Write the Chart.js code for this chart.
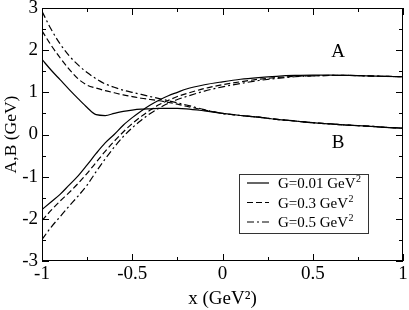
<!DOCTYPE html>
<html>
<head>
<meta charset="utf-8">
<script src="https://cdn.jsdelivr.net/npm/chart.js@4.4.0/dist/chart.umd.min.js"></script>
<style>
  html, body { margin: 0; padding: 0; background: #fff; }
  canvas { display: block; }
</style>
</head>
<body>
<canvas id="chart" width="409" height="310"></canvas>
<script>
const xs = [-1, -0.95, -0.9, -0.85, -0.8, -0.75, -0.7, -0.65, -0.6, -0.55, -0.5, -0.45, -0.4, -0.35, -0.3, -0.25, -0.2, -0.1, 0, 0.1, 0.2, 0.3, 0.4, 0.5, 0.6, 0.7, 0.8, 0.9, 1];

// A(x) for the three widths
const aG001 = [-1.78, -1.6, -1.42, -1.2, -0.98, -0.72, -0.45, -0.2, 0.0, 0.22, 0.4, 0.56, 0.7, 0.82, 0.92, 1.0, 1.08, 1.18, 1.25, 1.31, 1.35, 1.38, 1.4, 1.41, 1.41, 1.4, 1.39, 1.38, 1.37];
const aG03 = [-2.04, -1.8, -1.58, -1.38, -1.16, -0.92, -0.66, -0.4, -0.16, 0.06, 0.26, 0.43, 0.58, 0.71, 0.81, 0.9, 0.97, 1.09, 1.18, 1.25, 1.31, 1.35, 1.38, 1.39, 1.4, 1.4, 1.39, 1.38, 1.37];
const aG05 = [-2.49, -2.2, -1.95, -1.7, -1.46, -1.2, -0.88, -0.58, -0.3, -0.05, 0.16, 0.34, 0.5, 0.63, 0.74, 0.83, 0.9, 1.03, 1.13, 1.21, 1.28, 1.33, 1.37, 1.39, 1.4, 1.4, 1.39, 1.38, 1.37];

// B(x) for the three widths
const bG001 = [1.78, 1.53, 1.3, 1.07, 0.85, 0.64, 0.47, 0.45, 0.5, 0.55, 0.58, 0.6, 0.61, 0.62, 0.62, 0.62, 0.61, 0.56, 0.5, 0.45, 0.41, 0.36, 0.32, 0.28, 0.25, 0.22, 0.2, 0.17, 0.15];
const bG03 = [2.46, 2.12, 1.82, 1.55, 1.32, 1.17, 1.1, 1.04, 0.99, 0.94, 0.9, 0.86, 0.83, 0.8, 0.76, 0.72, 0.67, 0.58, 0.5, 0.45, 0.41, 0.36, 0.32, 0.28, 0.25, 0.22, 0.2, 0.17, 0.15];
const bG05 = [2.92, 2.5, 2.15, 1.87, 1.65, 1.47, 1.32, 1.2, 1.12, 1.05, 1.0, 0.95, 0.9, 0.85, 0.8, 0.75, 0.7, 0.59, 0.5, 0.45, 0.41, 0.36, 0.32, 0.28, 0.25, 0.22, 0.2, 0.17, 0.15];

const legendLabels = ['G=0.01 GeV', 'G=0.3 GeV', 'G=0.5 GeV'];
const dashes = [[], [6, 3], [7, 3, 2, 3]];
const curveLabels = [{ text: 'A', x: 0.64, y: 1.95 }, { text: 'B', x: 0.64, y: -0.2 }];

const pts = (ys) => xs.map((x, i) => ({ x: x, y: ys[i] }));
const serif = 'Liberation Serif, Times New Roman, serif';

const line = (ys, k, label) => ({
  label: label,
  data: pts(ys),
  borderColor: '#000',
  borderWidth: 1.2,
  borderDash: dashes[k],
  cubicInterpolationMode: 'monotone',
  pointRadius: 0,
  fill: false
});

const frame = {
  id: 'frame',
  afterDraw(chart) {
    const { ctx, chartArea: a, scales } = chart;
    const sx = scales.x, sy = scales.y;
    ctx.save();
    ctx.strokeStyle = '#000';
    ctx.lineWidth = 1;
    ctx.setLineDash([]);
    ctx.strokeRect(a.left + 0.5, a.top + 0.5, a.right - a.left - 1, a.bottom - a.top - 1);
    ctx.beginPath();
    for (let v = -1; v <= 1.001; v += 0.25) {
      const p = Math.round(sx.getPixelForValue(v)) + 0.5;
      const len = Math.abs(v * 2 - Math.round(v * 2)) < 1e-6 ? 7 : 4;
      ctx.moveTo(p, a.bottom); ctx.lineTo(p, a.bottom - len);
      ctx.moveTo(p, a.top); ctx.lineTo(p, a.top + len);
    }
    for (let v = -3; v <= 3.001; v += 0.5) {
      const p = Math.round(sy.getPixelForValue(v)) + 0.5;
      const len = Math.abs(v - Math.round(v)) < 1e-6 ? 7 : 4;
      ctx.moveTo(a.left, p); ctx.lineTo(a.left + len, p);
      ctx.moveTo(a.right, p); ctx.lineTo(a.right - len, p);
    }
    ctx.stroke();

    // curve names
    ctx.fillStyle = '#000';
    ctx.font = '19px ' + serif;
    ctx.textAlign = 'center';
    ctx.textBaseline = 'middle';
    curveLabels.forEach((c) => {
      ctx.fillText(c.text, sx.getPixelForValue(c.x), sy.getPixelForValue(c.y));
    });

    // legend box
    const bx = 239, by = 174, bw = 129, bh = 59;
    ctx.fillStyle = '#fff';
    ctx.fillRect(bx, by, bw, bh);
    ctx.strokeStyle = '#333';
    ctx.strokeRect(bx + 0.5, by + 0.5, bw, bh);
    ctx.textAlign = 'left';
    ctx.textBaseline = 'alphabetic';
    legendLabels.forEach((t, i) => {
      const yy = 183 + i * 19.5;
      ctx.strokeStyle = '#000';
      ctx.lineWidth = 1.2;
      ctx.setLineDash(dashes[i]);
      ctx.beginPath();
      ctx.moveTo(247, yy); ctx.lineTo(269, yy);
      ctx.stroke();
      ctx.setLineDash([]);
      ctx.fillStyle = '#000';
      ctx.font = '15px ' + serif;
      ctx.fillText(t, 278, yy + 5);
      const w = ctx.measureText(t).width;
      ctx.font = '10px ' + serif;
      ctx.fillText('2', 278 + w + 0.5, yy - 1);
    });
    ctx.restore();
  }
};

const tickText = (v) => String(Math.round(v * 10) / 10);

new Chart(document.getElementById('chart').getContext('2d'), {
  type: 'line',
  data: {
    datasets: [
      line(aG001, 0, 'A 0.01'), line(aG03, 1, 'A 0.3'), line(aG05, 2, 'A 0.5'),
      line(bG001, 0, 'B 0.01'), line(bG03, 1, 'B 0.3'), line(bG05, 2, 'B 0.5')
    ]
  },
  options: {
    responsive: false,
    animation: false,
    devicePixelRatio: 1,
    layout: { padding: { top: 8, right: 6, left: 0, bottom: 0 } },
    plugins: { legend: { display: false }, tooltip: { enabled: false } },
    scales: {
      x: {
        type: 'linear',
        min: -1,
        max: 1,
        grid: { display: false, drawTicks: false },
        border: { display: false },
        ticks: { stepSize: 0.5, autoSkip: false, maxRotation: 0, padding: 2, color: '#000', font: { family: serif, size: 19 }, callback: tickText },
        title: { display: true, text: 'x (GeV²)', color: '#000', padding: { top: 0, bottom: 0 }, font: { family: serif, size: 19 } },
        afterFit(s) { s.height = 49; s.paddingLeft = 0; s.paddingRight = 0; }
      },
      y: {
        min: -3,
        max: 3,
        grid: { display: false, drawTicks: false },
        border: { display: false },
        ticks: { stepSize: 1, autoSkip: false, padding: 4, color: '#000', font: { family: serif, size: 19 }, callback: tickText },
        title: { display: true, text: 'A,B (GeV)', color: '#000', padding: { top: 1, bottom: 0 }, font: { family: serif, size: 17.5 } },
        afterFit(s) { s.width = 42; s.paddingTop = 0; s.paddingBottom = 0; }
      }
    }
  },
  plugins: [frame]
});
</script>
</body>
</html>
